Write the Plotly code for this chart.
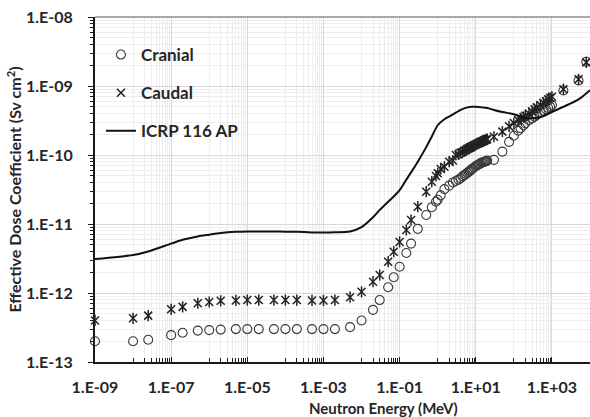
import plotly.graph_objects as go

# ---------------- data ----------------
energy_mev = [1e-9, 1e-8, 2.5e-8, 1e-7, 2e-7, 5e-7, 1e-6, 2e-6, 5e-6, 1e-5, 2e-5, 5e-5,
              1e-4, 2e-4, 5e-4, 1e-3, 2e-3, 5e-3, 1e-2, 2e-2, 3e-2, 5e-2, 7e-2,
              0.1, 0.15, 0.2, 0.3, 0.5, 0.7, 0.9, 1.0, 1.2, 1.5, 2, 2.5, 3, 3.5, 4, 4.5,
              5, 5.5, 6, 6.5, 7, 7.5, 8, 9, 10, 11, 12, 13, 14, 15, 16, 17, 18, 19, 20,
              30, 50, 75, 100, 130, 150, 180, 200, 250, 300, 350, 400, 500, 600, 700,
              800, 900, 1000, 2000, 5000, 8000]

cranial = [2.0e-13, 2.0e-13, 2.1e-13, 2.45e-13, 2.65e-13, 2.85e-13, 2.9e-13, 2.95e-13, 3.0e-13,
           3.0e-13, 3.0e-13, 3.0e-13, 3.0e-13, 3.0e-13, 3.0e-13, 3.0e-13, 3.0e-13, 3.2e-13,
           4.0e-13, 5.7e-13, 7.9e-13, 1.21e-12, 1.69e-12,
           2.4e-12, 3.8e-12, 5.2e-12, 8.5e-12, 1.35e-11, 1.75e-11, 2.1e-11, 2.25e-11, 2.6e-11,
           3.2e-11, 3.6e-11, 4.0e-11, 4.2e-11, 4.4e-11, 4.6e-11, 4.9e-11,
           5.1e-11, 5.3e-11, 5.5e-11, 5.7e-11, 5.9e-11, 6.1e-11, 6.3e-11, 6.6e-11, 6.9e-11,
           7.1e-11, 7.3e-11, 7.5e-11, 7.7e-11, 7.8e-11, 7.9e-11, 8.0e-11, 8.1e-11, 8.2e-11, 8.3e-11,
           8.5e-11, 1.12e-10, 1.55e-10, 1.9e-10, 2.25e-10, 2.45e-10, 2.7e-10, 2.9e-10, 3.2e-10,
           3.4e-10, 3.6e-10, 3.8e-10, 4.1e-10, 4.4e-10, 4.6e-10,
           4.8e-10, 5.0e-10, 5.3e-10, 8.6e-10, 1.2e-9, 2.25e-9]

caudal = [4.0e-13, 4.3e-13, 4.7e-13, 5.8e-13, 6.3e-13, 7.1e-13, 7.4e-13, 7.7e-13, 7.8e-13,
          7.9e-13, 7.9e-13, 7.9e-13, 7.9e-13, 7.9e-13, 7.8e-13, 7.8e-13, 7.9e-13, 8.7e-13,
          1.04e-12, 1.46e-12, 1.82e-12, 2.84e-12, 3.97e-12,
          5.5e-12, 8.2e-12, 1.14e-11, 1.78e-11, 2.94e-11, 4.1e-11, 4.97e-11, 5.43e-11, 6.27e-11,
          6.76e-11, 8.0e-11, 8.3e-11, 1.0e-10, 1.02e-10, 1.08e-10, 1.1e-10,
          1.15e-10, 1.18e-10, 1.22e-10, 1.25e-10, 1.28e-10, 1.3e-10, 1.33e-10, 1.38e-10, 1.42e-10,
          1.46e-10, 1.5e-10, 1.52e-10, 1.56e-10, 1.58e-10, 1.6e-10, 1.63e-10, 1.66e-10, 1.68e-10, 1.7e-10,
          1.84e-10, 2.18e-10, 2.6e-10, 2.9e-10, 3.2e-10, 3.35e-10, 3.55e-10, 3.7e-10, 4.0e-10,
          4.3e-10, 4.6e-10, 4.9e-10, 5.3e-10, 5.7e-10, 6.0e-10,
          6.4e-10, 6.7e-10, 7.0e-10, 9.0e-10, 1.25e-9, 2.2e-9]

icrp_energy = [1e-9, 1e-8, 2.5e-8, 1e-7, 2e-7, 5e-7, 1e-6, 2e-6, 5e-6, 1e-5, 2e-5, 5e-5,
               1e-4, 2e-4, 5e-4, 1e-3, 2e-3, 5e-3, 1e-2, 2e-2, 3e-2, 5e-2, 7e-2,
               0.1, 0.15, 0.2, 0.3, 0.5, 0.7, 1.0, 1.5, 2, 3, 4, 6, 8, 10, 15, 20,
               30, 50, 100, 150, 200, 300, 500, 700, 1000, 2000, 5000, 10000]
icrp_ap = [3.1e-12, 3.55e-12, 4.0e-12, 5.2e-12, 5.9e-12, 6.6e-12, 7.0e-12, 7.4e-12, 7.7e-12,
           7.8e-12, 7.8e-12, 7.8e-12, 7.75e-12, 7.7e-12, 7.55e-12, 7.5e-12, 7.6e-12, 7.8e-12,
           9.0e-12, 1.25e-11, 1.6e-11, 2.1e-11, 2.5e-11,
           3.1e-11, 4.4e-11, 5.6e-11, 8.0e-11, 1.3e-10, 1.85e-10, 2.7e-10, 3.3e-10, 3.6e-10,
           4.1e-10, 4.5e-10, 4.9e-10, 5.0e-10, 5.0e-10, 4.9e-10, 4.8e-10,
           4.5e-10, 4.2e-10, 3.9e-10, 3.6e-10, 3.45e-10, 3.4e-10, 3.55e-10, 3.8e-10, 4.2e-10,
           5.0e-10, 6.4e-10, 8.7e-10]

x_tickvals = [1e-9, 1e-7, 1e-5, 1e-3, 1e-1, 1e1, 1e3]
x_ticktext = ["1.E-09", "1.E-07", "1.E-05", "1.E-03", "1.E-01", "1.E+01", "1.E+03"]
y_tickvals = [1e-13, 1e-12, 1e-11, 1e-10, 1e-9, 1e-8]
y_ticktext = ["1.E-13", "1.E-12", "1.E-11", "1.E-10", "1.E-09", "1.E-08"]
x_title = "Neutron Energy (MeV)"
y_title = "Effective Dose Coefficient (Sv cm<sup>2</sup>)"

# ---------------- style helpers ----------------
FONT = "Lato"
TXT = "#262626"
MK = "#3a3a3a"

x_minor = []
for e in range(-8, 4, 2):
    for m in range(1, 10):
        x_minor.append(m * 10.0 ** e)
x_minor.append(1e4)
y_minor = []
for e in range(-13, -8):
    for m in range(2, 10):
        y_minor.append(m * 10.0 ** e)

fig = go.Figure()

fig.add_trace(go.Scatter(
    x=energy_mev, y=cranial, mode="markers", name="Cranial",
    legendgroup="a", cliponaxis=False,
    marker=dict(symbol="circle-open", size=9, color=MK, line=dict(width=1.1, color=MK)),
))
fig.add_trace(go.Scatter(
    x=energy_mev, y=caudal, mode="markers", name="Caudal",
    legendgroup="b", cliponaxis=False,
    marker=dict(symbol="x-thin-open", size=8, color="#222", line=dict(width=1.5, color="#222")),
))
fig.add_trace(go.Scatter(
    x=energy_mev, y=caudal, mode="markers", name="Caudal",
    legendgroup="b", showlegend=False, cliponaxis=False, hoverinfo="skip",
    marker=dict(symbol="line-ns-open", size=8, color="#222", line=dict(width=1.5, color="#222")),
))
fig.add_trace(go.Scatter(
    x=icrp_energy, y=icrp_ap, mode="lines", name="ICRP 116 AP",
    legendgroup="c",
    line=dict(color="#111", width=2, shape="spline", smoothing=0.8),
))

fig.update_layout(
    width=590, height=417,
    margin=dict(l=95, r=0, t=17, b=55),
    paper_bgcolor="white", plot_bgcolor="white",
    font=dict(family=FONT, color=TXT, size=14),
    showlegend=True,
    legend=dict(
        x=0.012, y=0.942, xanchor="left", yanchor="top",
        bgcolor="rgba(255,255,255,0)", borderwidth=0,
        font=dict(family=FONT, size=17, color=TXT, weight="bold"),
        tracegroupgap=13, traceorder="grouped", itemwidth=30,
    ),
    shapes=[dict(type="line", xref="paper", yref="paper", x0=0, x1=1, y0=1, y1=1,
                 line=dict(color="#8c8c8c", width=1.5), layer="above")],
    annotations=[dict(text=x_title, xref="paper", yref="paper", x=0.566, y=0,
                      xanchor="center", yanchor="middle", yshift=-46, xshift=8, showarrow=False,
                      font=dict(family=FONT, size=15, color=TXT, weight="bold"))],
)

fig.update_xaxes(
    type="log", range=[-9, 4], automargin=False,
    tickmode="array", tickvals=x_tickvals, ticktext=x_ticktext,
    tickfont=dict(family=FONT, size=16, color=TXT, weight="bold"),
    showline=True, linecolor="#1a1a1a", linewidth=2,
    ticks="inside", ticklen=5, tickwidth=1.3, tickcolor="#1a1a1a",
    ticklabelstandoff=10,
    showgrid=True, gridcolor="#d9d9d9", gridwidth=1,
    zeroline=False,
    minor=dict(tickmode="array", tickvals=x_minor, ticks="inside", ticklen=4,
               tickcolor="#1a1a1a", tickwidth=1, showgrid=True, gridcolor="#eeeeee", gridwidth=1),
)
fig.update_yaxes(
    type="log", range=[-13, -8], automargin=False,
    tickmode="array", tickvals=y_tickvals, ticktext=y_ticktext,
    tickfont=dict(family=FONT, size=16, color=TXT, weight="bold"),
    showline=True, linecolor="#1a1a1a", linewidth=2,
    ticks="outside", ticklen=5, tickwidth=1.3, tickcolor="#1a1a1a",
    ticklabelstandoff=12,
    showgrid=True, gridcolor="#d9d9d9", gridwidth=1,
    zeroline=False,
    minor=dict(tickmode="array", tickvals=y_minor, ticks="outside", ticklen=3,
               tickcolor="#1a1a1a", tickwidth=1, showgrid=True, gridcolor="#eeeeee", gridwidth=1),
    title=dict(text=y_title, standoff=0,
               font=dict(family=FONT, size=16, color=TXT, weight="bold")),
)

fig.write_html("out.html", config={"displayModeBar": False},
               post_script="document.body.style.margin='0px';")
